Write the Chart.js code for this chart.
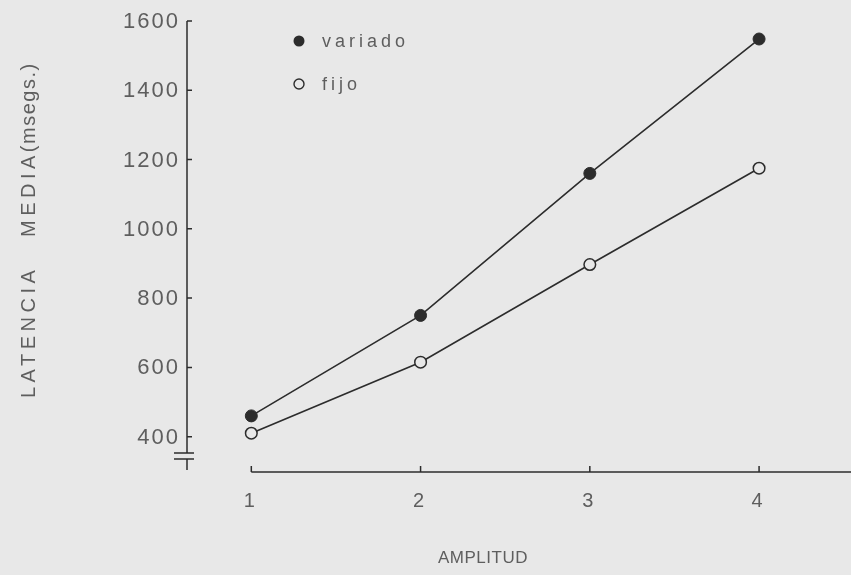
<!DOCTYPE html>
<html>
<head>
<meta charset="utf-8">
<script src="https://cdn.jsdelivr.net/npm/chart.js@4.4.1/dist/chart.umd.min.js"></script>
<style>
  html, body { margin: 0; padding: 0; background: #e8e8e8; }
  canvas { display: block; }
</style>
</head>
<body>
<canvas id="chart" width="851" height="575"></canvas>
<script>
// Mean latency (ms) by amplitude, for the two conditions
const amplitudes = [1, 2, 3, 4];
const variado = [460, 750, 1160, 1548];
const fijo = [410, 615, 897, 1175];
const yTickValues = [400, 600, 800, 1000, 1200, 1400, 1600];
const seriesNames = ['variado', 'fijo'];
const xTitle = 'AMPLITUD';
const yTitleParts = ['LATENCIA', 'MEDIA', '(msegs.)'];

const INK = '#2c2c2c';
const TEXT = '#5e5e5e';
const BG = '#e8e8e8';
const FONT = '"Liberation Sans", Arial, sans-serif';

const toPoints = vals => amplitudes.map((a, i) => ({ x: a, y: vals[i] }));

// Hand-drafted style axes: broken y axis, detached x axis, inward ticks, spaced lettering
const draftAxes = {
  id: 'draftAxes',
  beforeDatasetsDraw(chart) {
    const { ctx, scales: { x, y } } = chart;
    const ax = x.left;                  // y axis position
    const ay = y.bottom;                // x axis position
    const top = y.getPixelForValue(1600);
    ctx.save();
    ctx.strokeStyle = INK;
    ctx.lineWidth = 1.5;
    ctx.lineCap = 'butt';

    // y axis with break marks near the bottom
    const br1 = ay - 19, br2 = ay - 13;
    ctx.beginPath();
    ctx.moveTo(ax, top); ctx.lineTo(ax, br1);
    ctx.moveTo(ax, br2); ctx.lineTo(ax, ay - 2);
    ctx.moveTo(ax - 13, br1); ctx.lineTo(ax + 7, br1);
    ctx.moveTo(ax - 13, br2); ctx.lineTo(ax + 7, br2);
    ctx.stroke();

    // inward y ticks
    ctx.beginPath();
    yTickValues.forEach(v => {
      const py = y.getPixelForValue(v);
      ctx.moveTo(ax, py); ctx.lineTo(ax + 5, py);
    });
    ctx.stroke();

    // x axis starting at the first amplitude
    const x0 = x.getPixelForValue(amplitudes[0]);
    ctx.beginPath();
    ctx.moveTo(x0, ay); ctx.lineTo(chart.width, ay);
    amplitudes.forEach(a => {
      const px = x.getPixelForValue(a);
      ctx.moveTo(px, ay); ctx.lineTo(px, ay - 6);
    });
    ctx.stroke();

    // tick labels
    ctx.fillStyle = TEXT;
    ctx.font = '22px ' + FONT;
    ctx.letterSpacing = '2px';
    ctx.textAlign = 'right';
    ctx.textBaseline = 'middle';
    yTickValues.forEach(v => ctx.fillText(String(v), ax - 7, y.getPixelForValue(v) + 1));

    ctx.font = '20px ' + FONT;
    ctx.letterSpacing = '0px';
    ctx.textAlign = 'center';
    ctx.textBaseline = 'alphabetic';
    amplitudes.forEach(a => ctx.fillText(String(a), x.getPixelForValue(a) - 2, 507));

    // x title
    ctx.font = '17px ' + FONT;
    ctx.letterSpacing = '0.5px';
    ctx.fillText(xTitle, 483, 563);

    // y title, rotated
    ctx.save();
    ctx.translate(35, 398);
    ctx.rotate(-Math.PI / 2);
    ctx.textAlign = 'left';
    ctx.font = '20px ' + FONT;
    ctx.letterSpacing = '4.5px';
    ctx.fillText(yTitleParts[0], 0, 0);
    ctx.fillText(yTitleParts[1], 161, 0);
    const mediaW = ctx.measureText(yTitleParts[1]).width;
    ctx.letterSpacing = '1.5px';
    ctx.fillText(yTitleParts[2], 161 + mediaW - 1, 0);
    ctx.restore();

    // legend
    ctx.font = '18px ' + FONT;
    ctx.letterSpacing = '4px';
    ctx.textAlign = 'left';
    const rows = [{ cy: 41, filled: true }, { cy: 84, filled: false }];
    rows.forEach((r, i) => {
      ctx.beginPath();
      ctx.arc(299, r.cy, r.filled ? 5.5 : 5, 0, Math.PI * 2);
      if (r.filled) { ctx.fillStyle = INK; ctx.fill(); }
      else { ctx.lineWidth = 1.4; ctx.stroke(); }
      ctx.fillStyle = TEXT;
      ctx.fillText(seriesNames[i], 322, r.cy + 6);
    });
    ctx.restore();
  }
};

new Chart(document.getElementById('chart'), {
  type: 'line',
  data: {
    datasets: [
      {
        label: seriesNames[0],
        data: toPoints(variado),
        borderColor: INK,
        borderWidth: 1.6,
        pointRadius: 6,
        pointBackgroundColor: INK,
        pointBorderColor: INK,
        pointBorderWidth: 1,
        tension: 0,
        clip: false
      },
      {
        label: seriesNames[1],
        data: toPoints(fijo),
        borderColor: INK,
        borderWidth: 1.6,
        pointRadius: 5.8,
        pointBackgroundColor: BG,
        pointBorderColor: INK,
        pointBorderWidth: 1.5,
        tension: 0,
        clip: false
      }
    ]
  },
  options: {
    responsive: false,
    animation: false,
    devicePixelRatio: 1,
    events: [],
    layout: { padding: { left: 187, top: 21, right: 0, bottom: 103 } },
    plugins: { legend: { display: false }, tooltip: { enabled: false } },
    scales: {
      x: { type: 'linear', min: 0.62, max: 4.5, display: false },
      y: { type: 'linear', min: 298, max: 1600, display: false }
    }
  },
  plugins: [draftAxes]
});
</script>
</body>
</html>
